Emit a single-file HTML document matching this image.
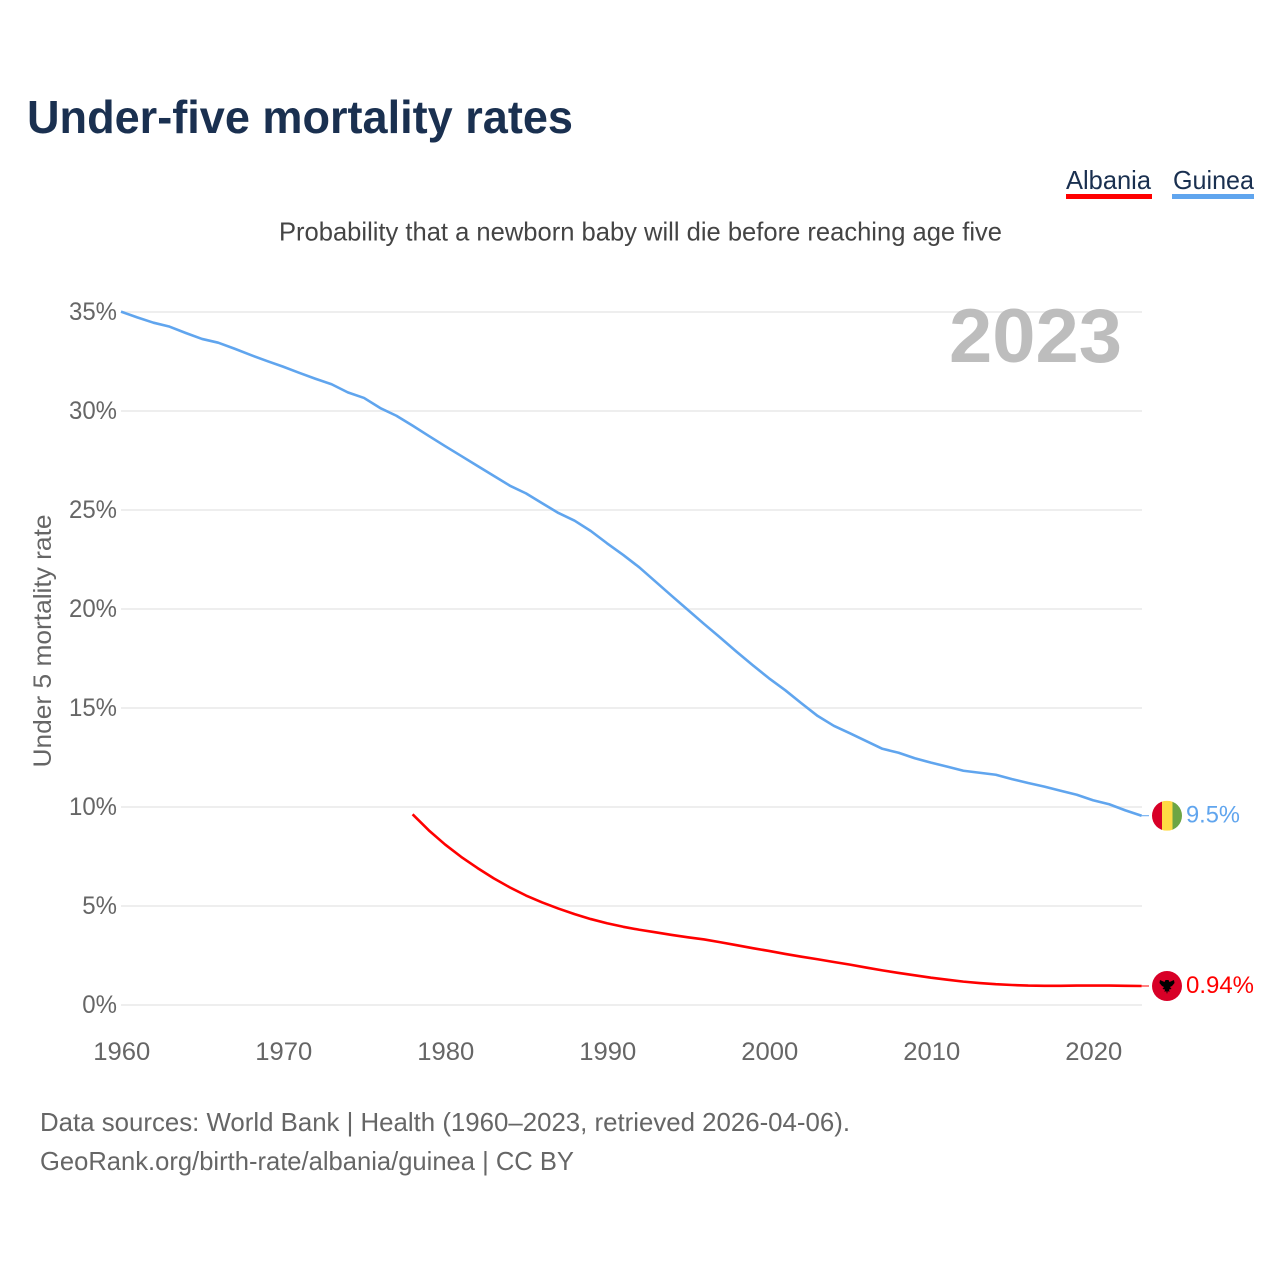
<!DOCTYPE html>
<html lang="en">
<head>
<meta charset="utf-8">
<title>Under-five mortality rates</title>
<style>
html,body{margin:0;padding:0;background:#fff;}
svg{display:block;font-family:"Liberation Sans",sans-serif;}
</style>
</head>
<body>
<svg id="chart" xmlns="http://www.w3.org/2000/svg" width="1280" height="1280" viewBox="0 0 1280 1280">
  <rect x="0" y="0" width="1280" height="1280" fill="#fff"/>
  <text x="27" y="133" font-size="46" font-weight="700" fill="#1a3050" textLength="546" lengthAdjust="spacingAndGlyphs">Under-five mortality rates</text>
  <g>
    <text x="1066" y="189" font-size="26" fill="#1a3050" textLength="85" lengthAdjust="spacingAndGlyphs">Albania</text>
    <rect x="1066" y="194" width="86" height="5" fill="#ff0000"/>
  </g>
  <g>
    <text x="1173" y="189" font-size="26" fill="#1a3050" textLength="81" lengthAdjust="spacingAndGlyphs">Guinea</text>
    <rect x="1172" y="194" width="82" height="5" fill="#60a5ee"/>
  </g>
  <text x="279" y="240.5" font-size="26" fill="#444" textLength="723" lengthAdjust="spacingAndGlyphs">Probability that a newborn baby will die before reaching age five</text>
  <g id="grid"></g>
  <text x="949" y="362" font-size="76" font-weight="700" fill="#bdbdbd" textLength="173" lengthAdjust="spacingAndGlyphs">2023</text>
  <g id="yticks"></g>
  <g id="xticks"></g>
  <text transform="translate(51,641) rotate(-90)" text-anchor="middle" font-size="25" fill="#666" textLength="253" lengthAdjust="spacingAndGlyphs">Under 5 mortality rate</text>
  <g id="series"></g>
  <g id="guinea-flag">
    <clipPath id="guinea-clip"><circle cx="0" cy="0" r="15"/></clipPath>
    <g clip-path="url(#guinea-clip)">
      <rect x="-15" y="-15" width="10" height="30" fill="#d80027"/>
      <rect x="-5" y="-15" width="10.5" height="30" fill="#ffda44"/>
      <rect x="5.5" y="-15" width="10" height="30" fill="#6da544"/>
    </g>
  </g>
  <g id="albania-flag">
    <circle cx="0" cy="0" r="15" fill="#d80027"/>
    <path fill="#000" d="M-1.5,-6 L1.5,-6 L2.5,-4 L7,-6 L7.5,-3 L5,0 L3,1 L4.5,3 L2,3.5 L2.5,6 L0.8,5 L0,8 L-0.8,5 L-2.5,6 L-2,3.5 L-4.5,3 L-3,1 L-5,0 L-7.5,-3 L-7,-6 L-2.5,-4 Z"/>
  </g>
  <text id="label-guinea" x="1186" font-size="24" fill="#60a5ee" textLength="54" lengthAdjust="spacingAndGlyphs"></text>
  <text id="label-albania" x="1186" font-size="24" fill="#ff0000" textLength="68" lengthAdjust="spacingAndGlyphs"></text>
  <text x="40" y="1131" font-size="26" fill="#666" textLength="810" lengthAdjust="spacingAndGlyphs">Data sources: World Bank | Health (1960–2023, retrieved 2026-04-06).</text>
  <text x="40" y="1170" font-size="26" fill="#666" textLength="534" lengthAdjust="spacingAndGlyphs">GeoRank.org/birth-rate/albania/guinea | CC BY</text>
</svg>
<script>
const yTickValues = [0, 5, 10, 15, 20, 25, 30, 35];
const xTickYears = [1960, 1970, 1980, 1990, 2000, 2010, 2020];
const guineaStartYear = 1960;
const guineaValues = [35.02,34.73,34.46,34.26,33.94,33.64,33.45,33.15,32.83,32.53,32.24,31.93,31.63,31.35,30.94,30.66,30.15,29.76,29.26,28.74,28.23,27.73,27.23,26.73,26.23,25.84,25.34,24.85,24.46,23.94,23.32,22.73,22.1,21.38,20.66,19.95,19.24,18.55,17.84,17.16,16.5,15.9,15.24,14.6,14.1,13.72,13.33,12.94,12.74,12.46,12.24,12.04,11.83,11.73,11.63,11.41,11.21,11.03,10.82,10.62,10.34,10.14,9.83,9.56];
const albaniaStartYear = 1978;
const albaniaValues = [9.63,8.82,8.11,7.48,6.92,6.4,5.94,5.53,5.18,4.87,4.59,4.34,4.13,3.95,3.8,3.67,3.54,3.42,3.31,3.17,3.02,2.87,2.73,2.58,2.44,2.31,2.17,2.04,1.89,1.75,1.62,1.5,1.38,1.28,1.18,1.11,1.05,1.01,0.98,0.97,0.97,0.98,0.98,0.98,0.97,0.96];
const guineaEndLabel = "9.5%";
const albaniaEndLabel = "0.94%";

const NS = 'http://www.w3.org/2000/svg';
const xScale = year => 121 + (year - 1960) * (1141.6 - 121) / 63;
const yScale = value => 1005 - value * (1005 - 312) / 35;
const LEFT = 121, RIGHT = 1142, END_X = 1149;

const grid = document.getElementById('grid');
const yticks = document.getElementById('yticks');
yTickValues.forEach(v => {
  const line = document.createElementNS(NS, 'line');
  
  
  line.setAttribute('x1', LEFT);
  line.setAttribute('x2', RIGHT);
  line.setAttribute('y1', yScale(v));
  line.setAttribute('y2', yScale(v));
  line.setAttribute('stroke', '#eeeeee');
  line.setAttribute('stroke-width', '2');
  grid.appendChild(line);

  const t = document.createElementNS(NS, 'text');
  
  
  t.setAttribute('x', 117);
  t.setAttribute('y', yScale(v) + 8);
  t.setAttribute('text-anchor', 'end');
  t.setAttribute('font-size', '25');
  t.setAttribute('fill', '#666');
  t.textContent = v + '%';
  yticks.appendChild(t);
  t.setAttribute('textLength', (t.getComputedTextLength() * 0.96).toFixed(1));
  t.setAttribute('lengthAdjust', 'spacingAndGlyphs');
});

const xticks = document.getElementById('xticks');
xTickYears.forEach(year => {
  const t = document.createElementNS(NS, 'text');
  
  
  t.setAttribute('x', xScale(year) + 0.8);
  t.setAttribute('y', 1060);
  t.setAttribute('text-anchor', 'middle');
  t.setAttribute('font-size', '25');
  t.setAttribute('fill', '#666');
  t.textContent = year;
  xticks.appendChild(t);
  t.setAttribute('textLength', '57');
  t.setAttribute('lengthAdjust', 'spacingAndGlyphs');
});

const series = document.getElementById('series');
function drawSeries(values, startYear, color) {
  const pts = values.map((v, i) => xScale(startYear + i).toFixed(2) + ',' + yScale(v).toFixed(2));
  const line = document.createElementNS(NS, 'polyline');
  
  
  line.setAttribute('points', pts.join(' '));
  line.setAttribute('fill', 'none');
  line.setAttribute('stroke', color);
  line.setAttribute('stroke-width', '2.6');
  line.setAttribute('stroke-linejoin', 'round');
  series.appendChild(line);

  const endY = yScale(values[values.length - 1]);
  const leader = document.createElementNS(NS, 'line');
  
  
  leader.setAttribute('x1', xScale(startYear + values.length - 1));
  leader.setAttribute('x2', END_X);
  leader.setAttribute('y1', endY);
  leader.setAttribute('y2', endY);
  leader.setAttribute('stroke', color);
  leader.setAttribute('stroke-width', '1');
  series.appendChild(leader);
  return endY;
}
const albaniaEndY = drawSeries(albaniaValues, albaniaStartYear, '#ff0000');
const guineaEndY = drawSeries(guineaValues, guineaStartYear, '#60a5ee');

document.getElementById('guinea-flag').setAttribute('transform', 'translate(1167,' + guineaEndY + ')');
document.getElementById('albania-flag').setAttribute('transform', 'translate(1167,' + albaniaEndY + ')');
const guineaLabel = document.getElementById('label-guinea');
guineaLabel.textContent = guineaEndLabel;
guineaLabel.setAttribute('y', guineaEndY + 7);
const albaniaLabel = document.getElementById('label-albania');
albaniaLabel.textContent = albaniaEndLabel;
albaniaLabel.setAttribute('y', albaniaEndY + 7);
</script>
</body>
</html>
